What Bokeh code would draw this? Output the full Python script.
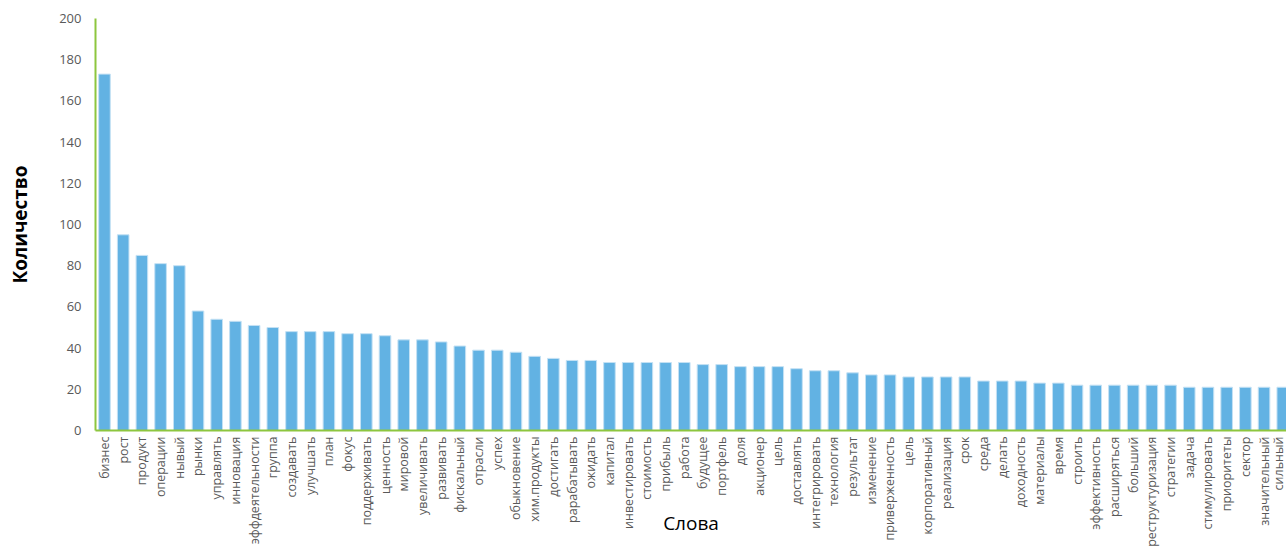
import math

from bokeh.plotting import figure
from bokeh.models import ColumnDataSource, Range1d, FixedTicker
from bokeh.embed import file_html
from bokeh.resources import INLINE

# Word frequencies, most common first
words = [
    "бизнес", "рост", "продукт", "операции", "нывый", "рынки", "управлять",
    "инновация", "эффдеятельности", "группа", "создавать", "улучшать", "план",
    "фокус", "поддерживать", "ценность", "мировой", "увеличивать", "развивать",
    "фискальный", "отрасли", "успех", "обыкновение", "хим.продукты", "достигать",
    "рарабатывать", "ожидать", "капитал", "инвестировать", "стоимость", "прибыль",
    "работа", "будущее", "портфель", "доля", "акционер", "цель", "доставлять",
    "интегрировать", "технология", "результат", "изменение", "приверженность",
    "цель", "корпоративный", "реализация", "срок", "среда", "делать",
    "доходность", "материалы", "время", "строить", "эффективность",
    "расширяться", "больший", "реструктуризация", "стратегии", "задача",
    "стимулировать", "приоритеты", "сектор", "значительный", "сильный",
]
counts = [
    173, 95, 85, 81, 80, 58, 54,
    53, 51, 50, 48, 48, 48,
    47, 47, 46, 44, 44, 43,
    41, 39, 39, 38, 36, 35,
    34, 34, 33, 33, 33, 33,
    33, 32, 32, 31, 31, 31, 30,
    29, 29, 28, 27, 27,
    26, 26, 26, 26, 24, 24,
    24, 23, 23, 22, 22,
    22, 22, 22, 22, 21,
    21, 21, 21, 21, 21,
]
y_ticks = [0, 20, 40, 60, 80, 100, 120, 140, 160, 180, 200]

positions = list(range(1, len(words) + 1))
source = ColumnDataSource(dict(x=positions, count=counts, word=words))

FONT = "Open Sans"
AXIS_GREEN = "#8DC63F"
TICK_GREY = "#595959"

p = figure(
    width=1286, height=548,
    output_backend="svg", toolbar_location=None,
    x_range=Range1d(0.52, 64.2), y_range=Range1d(0, 200),
    min_border_left=95, min_border_top=18,
    min_border_right=0, min_border_bottom=118,
    background_fill_color="white", border_fill_color="white",
)
p.outline_line_color = None
p.grid.grid_line_color = None

p.vbar(x="x", top="count", width=0.62, source=source,
       fill_color="#62B2E3", line_color="#C4E1F4", line_width=1)

# Y axis
ya = p.yaxis[0]
ya.ticker = FixedTicker(ticks=y_ticks)
ya.axis_line_color = AXIS_GREEN
ya.axis_line_width = 2
ya.major_tick_line_color = None
ya.minor_tick_line_color = None
ya.major_tick_out = 0
ya.major_tick_in = 0
ya.minor_tick_out = 0
ya.minor_tick_in = 0
ya.major_label_standoff = 14
ya.major_label_text_font = FONT
ya.major_label_text_font_size = "13px"
ya.major_label_text_color = TICK_GREY
ya.axis_label = "Количество"
ya.axis_label_text_font = FONT
ya.axis_label_text_font_size = "19px"
ya.axis_label_text_font_style = "bold"
ya.axis_label_text_color = "black"
ya.axis_label_standoff = 23

# X axis with one label per word; its title overlaps the label band
xa = p.xaxis[0]
xa.ticker = FixedTicker(ticks=positions)
xa.major_label_overrides = {i: w for i, w in zip(positions, words)}
xa.major_label_orientation = math.pi / 2
xa.axis_line_color = AXIS_GREEN
xa.axis_line_width = 2
xa.major_tick_line_color = None
xa.minor_tick_line_color = None
xa.major_tick_out = 0
xa.major_tick_in = 0
xa.minor_tick_out = 0
xa.minor_tick_in = 0
xa.major_label_standoff = 6
xa.major_label_text_font = FONT
xa.major_label_text_font_size = "12.5px"
xa.major_label_text_color = TICK_GREY
xa.axis_label = "Слова"
xa.axis_label_text_font = FONT
xa.axis_label_text_font_size = "19px"
xa.axis_label_text_font_style = "normal"
xa.axis_label_text_color = "black"
xa.axis_label_standoff = -40

open("out.html", "w").write(file_html(p, INLINE))
